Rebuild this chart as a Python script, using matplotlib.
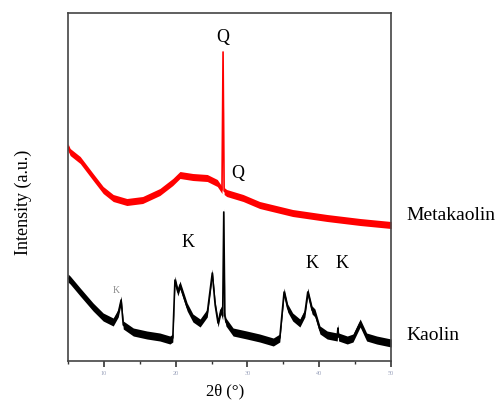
import numpy as np
import matplotlib.pyplot as plt
from matplotlib.ticker import MultipleLocator

plt.rcParams['font.family'] = ['Liberation Serif', 'DejaVu Serif']

# Metakaolin pattern (red), 2theta in degrees and intensity in a.u.
meta_2theta = [5.0, 5.3, 6.7, 8.5, 9.9, 11.3, 13.2, 15.4, 17.8, 19.6, 20.6,
               22.4, 24.4, 25.8, 26.45, 26.6, 26.75, 27.1, 29.4, 31.7, 36.3,
               41.1, 45.7, 50.0]
meta_int = [214, 209, 201, 184, 171, 163, 159, 161, 169, 179, 186,
            184, 183, 178, 171, 309, 170, 168, 163, 156, 148,
            143, 139, 136]

# Kaolin pattern (black)
kao_2theta = [5.0, 5.3, 6.7, 8.5, 9.9, 11.3, 12.0, 12.4, 12.7, 14.1, 16.0,
              17.8, 19.2, 19.6, 19.9, 20.3, 20.6, 21.6, 22.4, 23.4, 24.4,
              25.1, 25.5, 25.9, 26.3, 26.55, 26.7, 26.85, 27.0, 28.0, 29.9,
              31.7, 33.6, 34.5, 35.1, 35.6, 36.3, 37.3, 38.0, 38.4, 39.0,
              39.4, 40.1, 41.1, 42.5, 42.6, 42.7, 43.9, 44.7, 45.7, 46.6,
              48.0, 50.0]
kao_int = [83, 81, 69, 54, 44, 39, 48, 61, 36, 29, 26,
           24, 21, 23, 81, 69, 76, 54, 43, 38, 48,
           88, 56, 38, 51, 45, 149, 45, 39, 29, 26,
           23, 19, 23, 69, 53, 44, 38, 48, 69, 51,
           48, 31, 26, 24, 33, 24, 21, 23, 38, 24,
           21, 18]

# peak markers: (label, 2theta, intensity, size, colour)
peak_labels = [('Q', 26.6, 324, 13, 'black'),
               ('Q', 28.7, 188, 13, 'black'),
               ('K', 21.7, 119, 13, 'black'),
               ('K', 39.0, 98, 13, 'black'),
               ('K', 43.2, 98, 13, 'black'),
               ('K', 11.7, 71, 7, '#8a8a8a')]

x_ticks = [10, 20, 30, 40, 50]


def draw_pattern(ax, x, y, color, band=3.5):
    x = np.asarray(x)
    y = np.asarray(y)
    ax.fill_between(x, y - band, y + band, color=color, lw=0)
    ax.plot(x, y, color=color, lw=1.2)


fig = plt.figure(figsize=(4.97, 4.03), dpi=100)
ax = fig.add_axes([0.1368, 0.1042, 0.650, 0.8635])

draw_pattern(ax, meta_2theta, meta_int, '#ff0000')
draw_pattern(ax, kao_2theta, kao_int, 'black', band=4)

for txt, px, py, size, col in peak_labels:
    ax.text(px, py, txt, ha='center', va='center', fontsize=size, color=col)

ax.set_xlim(5, 50)
ax.set_ylim(0, 348)
ax.set_xticks(x_ticks)
ax.xaxis.set_minor_locator(MultipleLocator(5))
ax.tick_params(axis='x', which='major', direction='out', length=4,
               width=1.2, color='#333333', labelsize=4.5, labelcolor='#9aa2bb',
               pad=3)
ax.tick_params(axis='x', which='minor', direction='out', length=2,
               width=1.0, color='#333333')
ax.set_yticks([])
for sp in ax.spines.values():
    sp.set_color('#444444')
    sp.set_linewidth(1.2)

ax.set_xlabel('2θ (°)', fontsize=12)
ax.xaxis.set_label_coords(0.486, -0.064)
ax.set_ylabel('Intensity (a.u.)', fontsize=13)
ax.yaxis.set_label_coords(-0.112, 0.457)

fig.text(406 / 497, 1 - 215 / 403, 'Metakaolin', ha='left', va='center',
         fontsize=14)
fig.text(406 / 497, 1 - 335 / 403, 'Kaolin', ha='left', va='center',
         fontsize=14)

fig.savefig('out.png', dpi=100)
